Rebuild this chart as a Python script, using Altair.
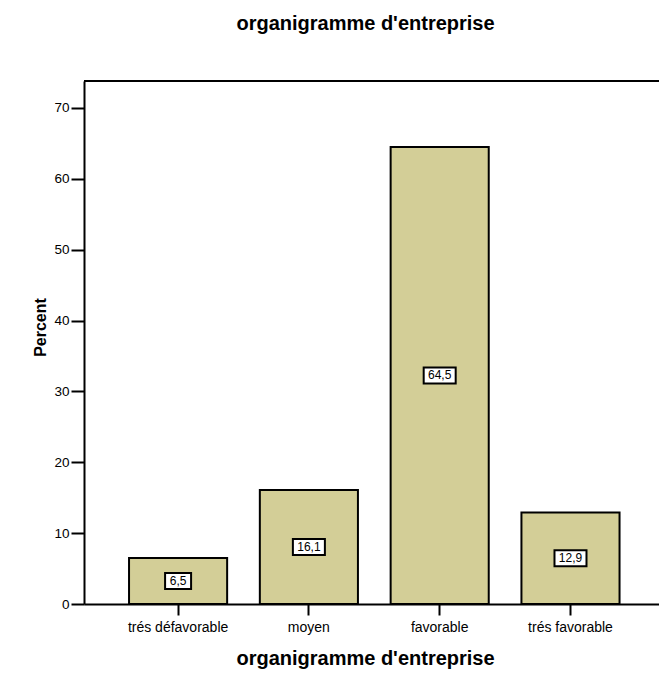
import altair as alt
import pandas as pd

# Répartition des réponses (en %)
categories = ["trés défavorable", "moyen", "favorable", "trés favorable"]
percents = [6.5, 16.1, 64.5, 12.9]
y_ticks = [0, 10, 20, 30, 40, 50, 60, 70]

chart_title = "organigramme d'entreprise"
x_title = "organigramme d'entreprise"
y_title = "Percent"

df = pd.DataFrame({"categorie": categories, "pct": percents})

FONT = "Liberation Sans"
BAR_FILL = "#d3ce97"
W, H = 575, 523

x_scale = alt.Scale(domain=categories, paddingInner=0.25, paddingOuter=0.323, align=0.533)
y_scale = alt.Scale(domain=[0, 73.8], nice=False, zero=True)

x_axis = alt.Axis(
    labelAngle=0, labelFont=FONT, labelFontSize=14, labelColor="black", labelPadding=5,
    tickSize=11, tickWidth=2, tickColor="black",
    domainWidth=2, domainColor="black", grid=False,
    titleFont=FONT, titleFontSize=20, titleFontWeight="bold", titleColor="black",
    titleX=281, titleY=60, titleAlign="center", titleBaseline="alphabetic",
)
y_axis = alt.Axis(
    values=y_ticks, labelFont=FONT, labelFontSize=13.5, labelColor="black", labelPadding=2,
    tickSize=13, tickWidth=2, tickColor="black",
    domainWidth=2, domainColor="black", grid=False,
    titleFont=FONT, titleFontSize=16, titleFontWeight="bold", titleColor="black",
    titleAngle=270, titleX=-44, titleY=246, titleAlign="center", titleBaseline="middle",
)

x_enc = alt.X("categorie:N", sort=categories, scale=x_scale, axis=x_axis, title=x_title)

base = alt.Chart(df)

bars = base.mark_bar(fill=BAR_FILL, stroke="black", strokeWidth=2).encode(
    x=x_enc,
    y=alt.Y("pct:Q", scale=y_scale, axis=y_axis, title=y_title),
)

# Boîtes blanches des étiquettes, centrées à mi-hauteur des barres
box_short = "M-1.3,-0.8H1.3V0.8H-1.3Z"
box_long = "M-1.6,-0.8H1.6V0.8H-1.6Z"

labelled = base.transform_calculate(
    mid="datum.pct / 2",
    label="replace(format(datum.pct, '.1f'), '.', ',')",
).transform_calculate(
    box=f"length(datum.label) > 3 ? '{box_long}' : '{box_short}'"
)

mid_enc = alt.Y("mid:Q", scale=y_scale, axis=y_axis, title=y_title)

boxes = labelled.mark_point(filled=True, fill="white", stroke="black", strokeWidth=2, opacity=1, size=400).encode(
    x=x_enc,
    y=mid_enc,
    shape=alt.Shape("box:N", scale=None, legend=None),
)

texts = labelled.mark_text(font=FONT, fontSize=12, color="black", align="center", baseline="middle").encode(
    x=x_enc,
    y=mid_enc,
    text="label:N",
)

# Trait supérieur du cadre
top_line = base.mark_rule(color="black", strokeWidth=2).encode(
    x=alt.value(0), x2=alt.value(W), y=alt.value(0)
)

chart = alt.layer(bars, boxes, texts, top_line).properties(
    width=W,
    height=H,
    title=alt.TitleParams(
        chart_title, font=FONT, fontSize=20, fontWeight="bold", color="black",
        anchor="middle", baseline="alphabetic", offset=30, dx=-6,
    ),
    autosize=alt.AutoSizeParams(type="none"),
    padding={"left": 84, "top": 81, "right": 0, "bottom": 94},
).configure_view(strokeWidth=0).configure(background="white")

chart.save("out.html", embed_options={"renderer": "svg", "actions": False})
